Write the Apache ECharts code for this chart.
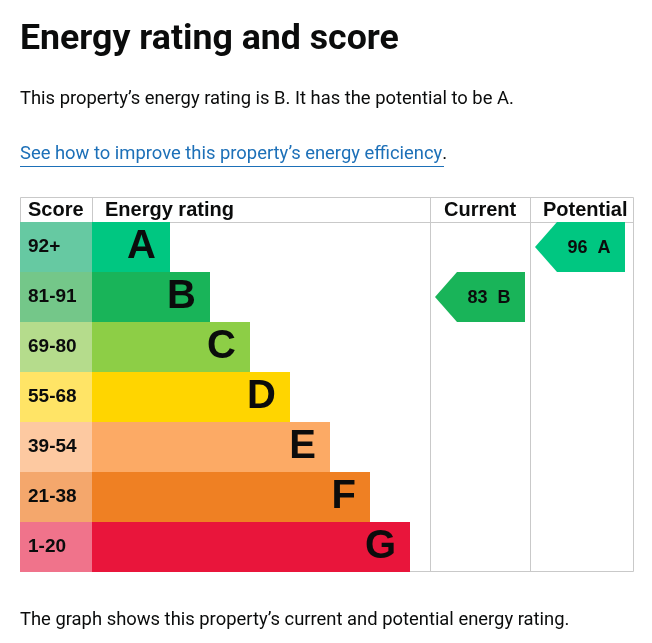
<!DOCTYPE html>
<html>
<head>
<meta charset="utf-8">
<script src="https://cdn.jsdelivr.net/npm/echarts/dist/echarts.min.js"></script>
<style>
html,body{margin:0;padding:0;background:#fff;}
#chart{width:652px;height:643px;}
</style>
</head>
<body>
<div id="chart"></div>
<script>
// ---- data ----
const ratings = ['A', 'B', 'C', 'D', 'E', 'F', 'G'];
const scoreRanges = ['92+', '81-91', '69-80', '55-68', '39-54', '21-38', '1-20'];
const bandLengths = [78, 118, 158, 198, 238, 278, 318];
const bandColors = ['#00c781', '#19b459', '#8dce46', '#ffd500', '#fcaa65', '#ef8023', '#e9153b'];
const scoreColors = ['#66c9a2', '#74c789', '#b5dc8c', '#ffe466', '#fdc9a1', '#f4a76c', '#f0738b'];
const currentScore = 83;
const currentRating = 'B';
const potentialScore = 96;
const potentialRating = 'A';
const headers = ['Score', 'Energy rating', 'Current', 'Potential'];

const chart = echarts.init(document.getElementById('chart'), null, {renderer: 'canvas'});

const TOP = 222, ROWS_H = 350;
const lineColor = '#c9c9c9';
const arial = '"Liberation Sans", Arial, sans-serif';
const bodyFont = 'Roboto, "Noto Sans", sans-serif';

function arrowRender(params, api) {
  const cs = params.coordSys;
  const idx = api.value(0);
  const c = api.coord([0, idx]);
  const h = api.size([0, 1])[1];
  const left = cs.x + 5, right = left + 90, tipW = 22;
  const top = c[1] - h / 2, bot = c[1] + h / 2;
  return {
    type: 'group',
    children: [{
      type: 'polygon',
      shape: {points: [[left, c[1]], [left + tipW, top], [right, top], [right, bot], [left + tipW, bot]]},
      style: {fill: bandColors[idx]}
    }, {
      type: 'text',
      style: {
        text: api.value(1) + '  ' + ratings[idx],
        x: (left + tipW + right) / 2 - 2, y: c[1] + 1,
        align: 'center', verticalAlign: 'middle',
        font: 'bold 18px ' + arial, fill: '#0b0c0c'
      }
    }]
  };
}

const yCat = (gi) => ({
  type: 'category', gridIndex: gi, data: ratings, inverse: true,
  axisLine: {show: false}, axisTick: {show: false}, axisLabel: {show: false}
});
const xVal = (gi, max) => ({
  type: 'value', gridIndex: gi, min: 0, max: max,
  axisLine: {show: false}, axisTick: {show: false}, axisLabel: {show: false}, splitLine: {show: false}
});

const option = {
  backgroundColor: '#ffffff',
  animation: false,
  title: {
    text: 'Energy rating and score',
    left: 20, top: 22, padding: 0,
    textStyle: {fontFamily: bodyFont, fontWeight: 'bold', fontSize: 35.7, color: '#0b0c0c'}
  },
  grid: [
    {left: 20, top: TOP, width: 72, height: ROWS_H},
    {left: 92, top: TOP, width: 338, height: ROWS_H},
    {left: 430, top: TOP, width: 100, height: ROWS_H},
    {left: 530, top: TOP, width: 104, height: ROWS_H}
  ],
  xAxis: [xVal(0, 1), xVal(1, 338), xVal(2, 100), xVal(3, 100)],
  yAxis: [yCat(0), yCat(1), yCat(2), yCat(3)],
  series: [
    {
      type: 'bar', xAxisIndex: 0, yAxisIndex: 0, barWidth: '100%',
      data: ratings.map((r, i) => ({value: 1, itemStyle: {color: scoreColors[i]}})),
      label: {
        show: true, position: 'insideLeft', distance: 8,
        formatter: (p) => scoreRanges[p.dataIndex],
        fontFamily: arial, fontWeight: 'bold', fontSize: 19, color: '#0b0c0c'
      },
      silent: true
    },
    {
      type: 'bar', xAxisIndex: 1, yAxisIndex: 1, barWidth: '100%',
      data: bandLengths.map((v, i) => ({value: v, itemStyle: {color: bandColors[i]}})),
      label: {
        show: true, position: 'insideRight', distance: 14,
        formatter: (p) => ratings[p.dataIndex],
        fontFamily: arial, fontWeight: 'bold', fontSize: 40, color: '#0b0c0c'
      },
      silent: true
    },
    {
      type: 'custom', xAxisIndex: 2, yAxisIndex: 2,
      renderItem: arrowRender,
      encode: {y: 0},
      data: [[currentRating, currentScore]]
    },
    {
      type: 'custom', xAxisIndex: 3, yAxisIndex: 3,
      renderItem: arrowRender,
      encode: {y: 0},
      data: [[potentialRating, potentialScore]]
    }
  ],
  graphic: [
    {type: 'text', left: 20, top: 90, style: {text: 'This property\u2019s energy rating is B. It has the potential to be A.', font: '18.4px ' + bodyFont, fill: '#0b0c0c'}},
    {type: 'text', left: 20, top: 145, style: {
      text: '{a|See how to improve this property\u2019s energy efficiency}{b|.}',
      rich: {
        a: {fontFamily: bodyFont, fontSize: 18.4, fill: '#1d70b8'},
        b: {fontFamily: bodyFont, fontSize: 18.4, fill: '#0b0c0c'}
      }
    }},
    {type: 'line', shape: {x1: 20, y1: 166.5, x2: 444, y2: 166.5}, style: {stroke: '#1d70b8', lineWidth: 1}},
    {type: 'text', left: 20, top: 611, style: {text: 'The graph shows this property\u2019s current and potential energy rating.', font: '18.4px ' + bodyFont, fill: '#0b0c0c'}},
    // table lines
    {type: 'rect', z: -1, shape: {x: 20.5, y: 197.5, width: 613, height: 374}, style: {fill: 'none', stroke: lineColor, lineWidth: 1}},
    {type: 'line', z: -1, shape: {x1: 20, y1: 222.5, x2: 634, y2: 222.5}, style: {stroke: lineColor, lineWidth: 1}},
    {type: 'line', z: -1, shape: {x1: 92.5, y1: 197, x2: 92.5, y2: 222}, style: {stroke: lineColor, lineWidth: 1}},
    {type: 'line', z: -1, shape: {x1: 430.5, y1: 197, x2: 430.5, y2: 572}, style: {stroke: lineColor, lineWidth: 1}},
    {type: 'line', z: -1, shape: {x1: 530.5, y1: 197, x2: 530.5, y2: 572}, style: {stroke: lineColor, lineWidth: 1}},
    // headers
    {type: 'text', left: 28, top: 200, style: {text: headers[0], font: 'bold 20px ' + arial, fill: '#0b0c0c'}},
    {type: 'text', left: 105, top: 200, style: {text: headers[1], font: 'bold 20px ' + arial, fill: '#0b0c0c'}},
    {type: 'text', left: 444, top: 200, style: {text: headers[2], font: 'bold 20px ' + arial, fill: '#0b0c0c'}},
    {type: 'text', left: 543, top: 200, style: {text: headers[3], font: 'bold 20px ' + arial, fill: '#0b0c0c'}}
  ]
};
chart.setOption(option);
</script>
</body>
</html>
